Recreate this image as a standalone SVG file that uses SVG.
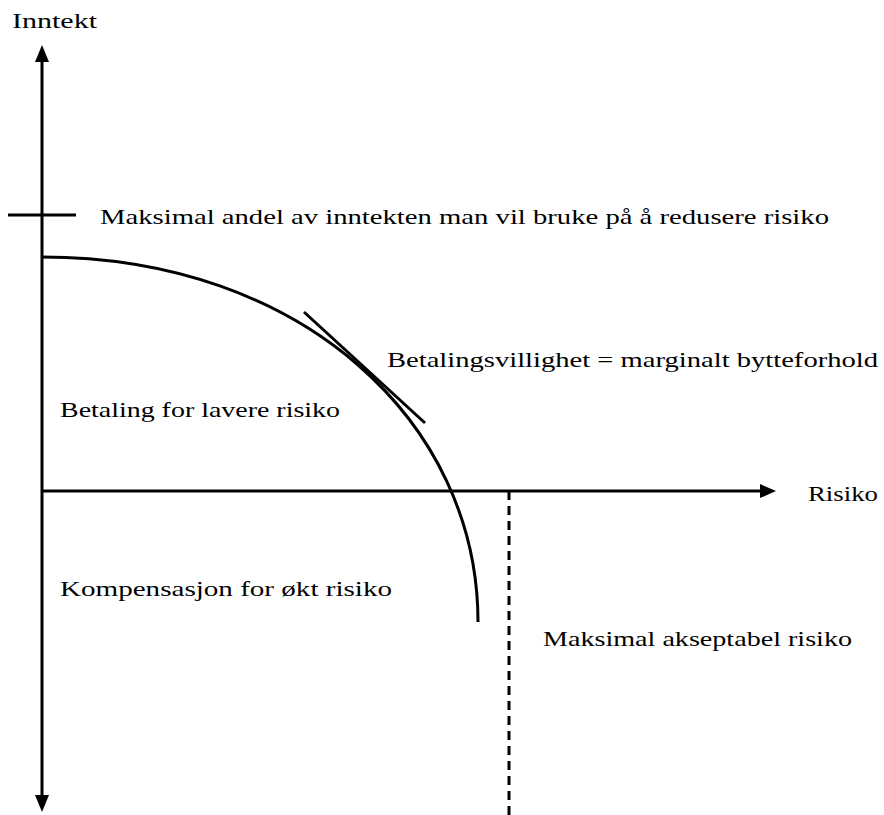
<svg xmlns="http://www.w3.org/2000/svg" width="884" height="815" viewBox="0 0 884 815">
<style>
.ax{stroke:#000;stroke-width:3;fill:none}
.ln{stroke:#000;stroke-width:3;fill:none}
.dash{stroke:#000;stroke-width:3;fill:none;stroke-dasharray:9 6}
.t{font-family:"Liberation Serif","Times New Roman",serif;font-size:22px;fill:#000}
.ah{fill:#000}
</style>
<rect width="884" height="815" fill="#fff"/>
<g id="connectors">
<line class="ax" x1="42" y1="60" x2="42" y2="798"/>
<polygon class="ah" points="42,45 35,62 49,62"/>
<polygon class="ah" points="42,812 35,795 49,795"/>
<line class="ax" x1="42" y1="491" x2="762" y2="491"/>
<polygon class="ah" points="776,491 760,484 760,498"/>
<line class="ln" x1="8" y1="215" x2="76" y2="215"/>
<line class="dash" x1="509" y1="491" x2="509" y2="815"/>
<path id="curve" class="ln" d="M42,257 C302,257 478,422 478,622"/>
<line id="tangent" class="ln" x1="304" y1="312" x2="425" y2="423"/>
</g>
<g id="labels">
<text class="t" x="12" y="28" textLength="85" lengthAdjust="spacingAndGlyphs">Inntekt</text>
<text class="t" x="100" y="224" textLength="729" lengthAdjust="spacingAndGlyphs">Maksimal andel av inntekten man vil bruke på å redusere risiko</text>
<text class="t" x="387" y="367" textLength="491" lengthAdjust="spacingAndGlyphs">Betalingsvillighet = marginalt bytteforhold</text>
<text class="t" x="60" y="417" textLength="280" lengthAdjust="spacingAndGlyphs">Betaling for lavere risiko</text>
<text class="t" x="808" y="501" textLength="70" lengthAdjust="spacingAndGlyphs">Risiko</text>
<text class="t" x="60" y="596" textLength="332" lengthAdjust="spacingAndGlyphs">Kompensasjon for økt risiko</text>
<text class="t" x="543" y="646" textLength="309" lengthAdjust="spacingAndGlyphs">Maksimal akseptabel risiko</text>
</g>
</svg>
